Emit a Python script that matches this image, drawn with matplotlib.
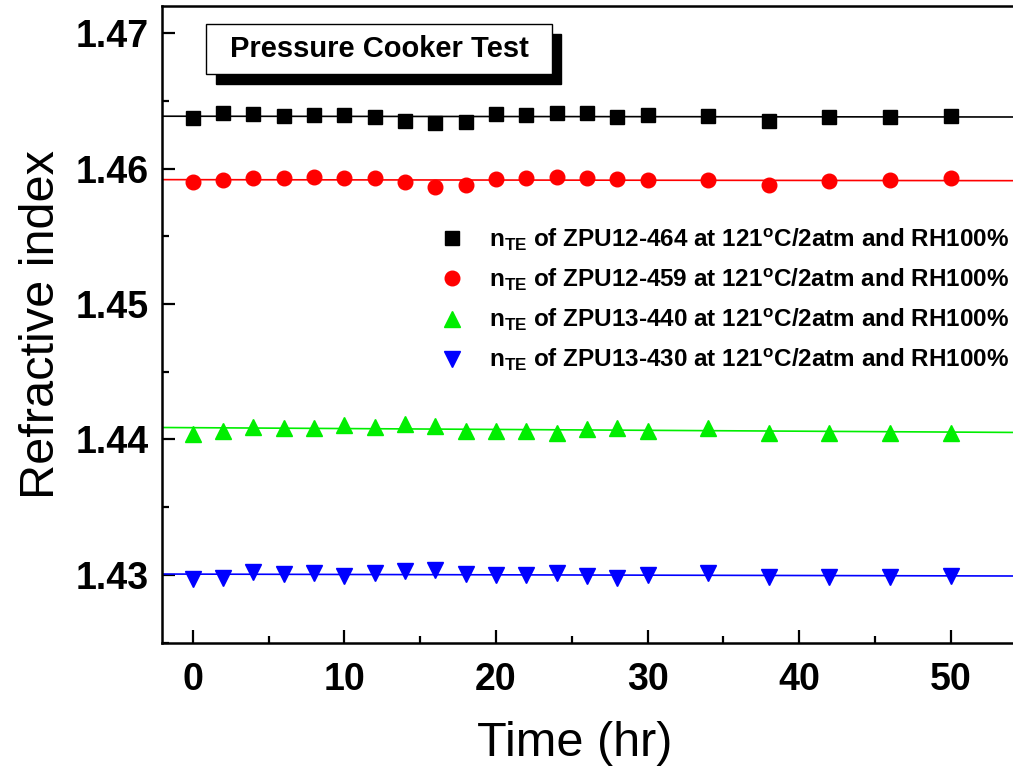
import numpy as np
import matplotlib
matplotlib.use("Agg")
import matplotlib.pyplot as plt
from matplotlib.patches import Rectangle
from matplotlib.ticker import MultipleLocator, FormatStrFormatter

plt.rcParams['font.family'] = ['Liberation Sans', 'DejaVu Sans']
plt.rcParams['mathtext.fontset'] = 'custom'
plt.rcParams['mathtext.rm'] = 'Liberation Sans:bold'
plt.rcParams['mathtext.it'] = 'Liberation Sans:bold'
plt.rcParams['mathtext.bf'] = 'Liberation Sans:bold'

# Time points (hr)
time_hr = [0, 2, 4, 6, 8, 10, 12, 14, 16, 18, 20, 22, 24, 26, 28, 30, 34, 38, 42, 46, 50]

# Refractive index (TE)
n_zpu12_464 = [1.46371, 1.46408, 1.46403, 1.46386, 1.46395, 1.46397, 1.46383, 1.46351,
               1.46336, 1.46346, 1.46403, 1.46393, 1.46412, 1.46408, 1.46380, 1.46397,
               1.46390, 1.46353, 1.46378, 1.46380, 1.46390]
n_zpu12_459 = [1.45902, 1.45919, 1.45931, 1.45931, 1.45936, 1.45927, 1.45931, 1.45897,
               1.45865, 1.45875, 1.45922, 1.45927, 1.45936, 1.45929, 1.45924, 1.45916,
               1.45919, 1.45877, 1.45905, 1.45916, 1.45927]
n_zpu13_440 = [1.44041, 1.44061, 1.44095, 1.44086, 1.44087, 1.44106, 1.44095, 1.44115,
               1.44103, 1.44066, 1.44061, 1.44061, 1.44047, 1.44080, 1.44081, 1.44061,
               1.44086, 1.44051, 1.44051, 1.44051, 1.44051]
n_zpu13_430 = [1.42971, 1.42976, 1.43021, 1.43008, 1.43011, 1.42989, 1.43016, 1.43028,
               1.43038, 1.43006, 1.43001, 1.43001, 1.43011, 1.42993, 1.42980, 1.42999,
               1.43013, 1.42987, 1.42987, 1.42987, 1.42989]

series = [
    (n_zpu12_464, 'black', 's', 9.5, 'ZPU12-464'),
    (n_zpu12_459, 'red', 'o', 10.5, 'ZPU12-459'),
    (n_zpu13_440, '#00ee00', '^', 12, 'ZPU13-440'),
    (n_zpu13_430, 'blue', 'v', 12, 'ZPU13-430'),
]

fig = plt.figure(figsize=(10.13, 7.66), dpi=100)
ax = fig.add_axes([0.1604, 0.161, 0.8455, 0.8312])

x_min, x_max = -2, 54.5
x_fit = np.array([x_min, x_max])
for vals, color, marker, ms, name in series:
    label = r'n$_{\mathrm{TE}}$ of ' + name + r' at 121$^{\mathrm{o}}$C/2atm and RH100%'
    ax.plot(time_hr, vals, linestyle='none', marker=marker, markersize=ms,
            color=color, markeredgecolor=color, label=label, zorder=3)
    # linear fit
    k, b = np.polyfit(time_hr, vals, 1)
    ax.plot(x_fit, k * x_fit + b, color=color, linewidth=1.2, zorder=2)

ax.set_xlim(x_min, x_max)
ax.set_ylim(1.425, 1.472)
ax.xaxis.set_major_locator(MultipleLocator(10))
ax.xaxis.set_minor_locator(MultipleLocator(5))
ax.yaxis.set_major_locator(MultipleLocator(0.01))
ax.yaxis.set_minor_locator(MultipleLocator(0.005))
ax.yaxis.set_major_formatter(FormatStrFormatter('%.2f'))

ax.tick_params(which='both', direction='in', top=False, right=False, width=1.6)
ax.tick_params(which='major', length=9.5, labelsize=27)
ax.tick_params(axis='x', which='major', pad=14)
ax.tick_params(axis='y', which='major', pad=10)
ax.tick_params(which='minor', length=5)
for lbl in ax.get_xticklabels() + ax.get_yticklabels():
    lbl.set_fontweight('bold')

for side in ['left', 'bottom', 'top']:
    ax.spines[side].set_linewidth(1.8)
ax.spines['right'].set_visible(False)

ax.set_xlabel("Time (hr)", fontsize=35)
ax.xaxis.set_label_coords(0.4818, -0.178, transform=ax.transAxes)
ax.xaxis.label.set_va('baseline')
ax.set_ylabel("Refractive index", fontsize=35, labelpad=8)

# Title box with black drop shadow
fw, fh = fig.get_size_inches() * fig.dpi
shadow = Rectangle((216 / fw, 1 - 84 / fh), 345 / fw, 50 / fh, transform=fig.transFigure,
                   facecolor='black', edgecolor='black', zorder=5)
box = Rectangle((206 / fw, 1 - 74 / fh), 346 / fw, 50 / fh, transform=fig.transFigure,
                facecolor='white', edgecolor='black', linewidth=1.0, zorder=6)
fig.patches.extend([shadow, box])
fig.text(379 / fw, 1 - 49 / fh, "Pressure Cooker Test", fontsize=21, fontweight='bold',
         ha='center', va='center', zorder=7)

leg = ax.legend(loc='upper left', bbox_to_anchor=(0.425, 0.717), bbox_transform=fig.transFigure,
                frameon=False, fontsize=17.5, handlelength=1.0, handletextpad=1.0,
                labelspacing=0.58, borderaxespad=0)
for txt in leg.get_texts():
    txt.set_fontweight('bold')

fig.savefig("out.png", dpi=100)
